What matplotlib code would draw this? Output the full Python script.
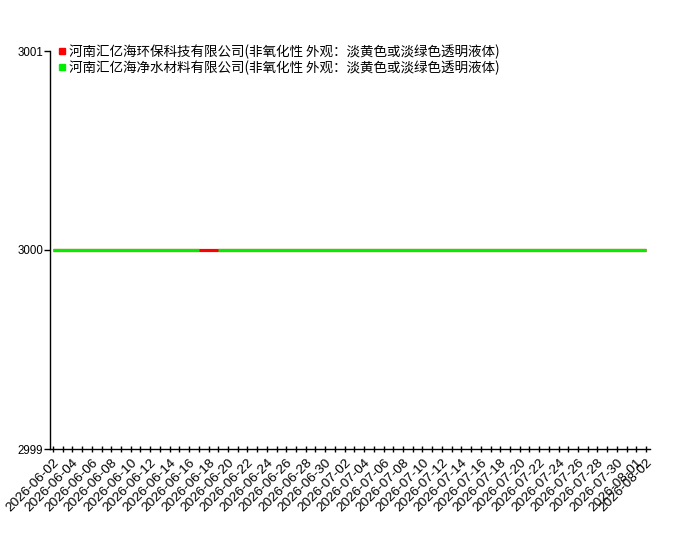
import matplotlib
matplotlib.use("Agg")
import matplotlib.pyplot as plt
import numpy as np
import pandas as pd

dates = pd.date_range("2026-06-02", "2026-08-02", freq="D").strftime("%Y-%m-%d").tolist()
series_names = [
    "河南汇亿海环保科技有限公司(非氧化性 外观：淡黄色或淡绿色透明液体)",
    "河南汇亿海净水材料有限公司(非氧化性 外观：淡黄色或淡绿色透明液体)",
]
series_colors = ["#ff0000", "#00ee00"]
values_a = [3000] * len(dates)
values_b = [3000] * len(dates)
values_b[dates.index("2026-06-18")] = np.nan
yticks = [2999, 3000, 3001]

fig = plt.figure(figsize=(7, 5.5), dpi=100)
ax = fig.add_axes([50/700, 1-449/550, 600/700, (449-51)/550])

x = np.arange(len(dates))
for vals, name, col in zip([values_a, values_b], series_names, series_colors):
    ax.plot(x, vals, color=col, lw=2.3, solid_capstyle="butt", label=name)

ax.set_xlim(-0.3, len(dates) - 1 + 0.4)
ax.set_ylim(2999, 3001)
ax.set_yticks(yticks)
ax.set_yticklabels([str(v) for v in yticks], family="Liberation Sans", fontsize=8.3)

ax.set_xticks(x)
lab_idx = list(range(0, len(dates), 2))
if len(dates) - 1 not in lab_idx:
    lab_idx.append(len(dates) - 1)
labels = [dates[i] if i in lab_idx else "" for i in x]
ax.set_xticklabels(labels, rotation=45, ha="right", rotation_mode="anchor",
                   family="Liberation Sans", fontsize=9.7)
ax.tick_params(axis="x", direction="inout", length=5, width=1, pad=3)
ax.tick_params(axis="y", direction="out", length=4, width=1, pad=1)

for s in ["top", "right"]:
    ax.spines[s].set_visible(False)
for s in ["left", "bottom"]:
    ax.spines[s].set_linewidth(1)

handles = [plt.Line2D([], [], marker="s", color=c, ls="none", markersize=4.5) for c in series_colors]
leg = ax.legend(handles, series_names, loc="upper left", bbox_to_anchor=(0.005, 1.03),
                frameon=False, handlelength=0.6, handletextpad=0.2, labelspacing=0.1,
                borderaxespad=0, prop={"family": ["Noto Sans CJK SC", "DejaVu Sans"], "size": 9.75})

fig.savefig("out.png", dpi=100)
